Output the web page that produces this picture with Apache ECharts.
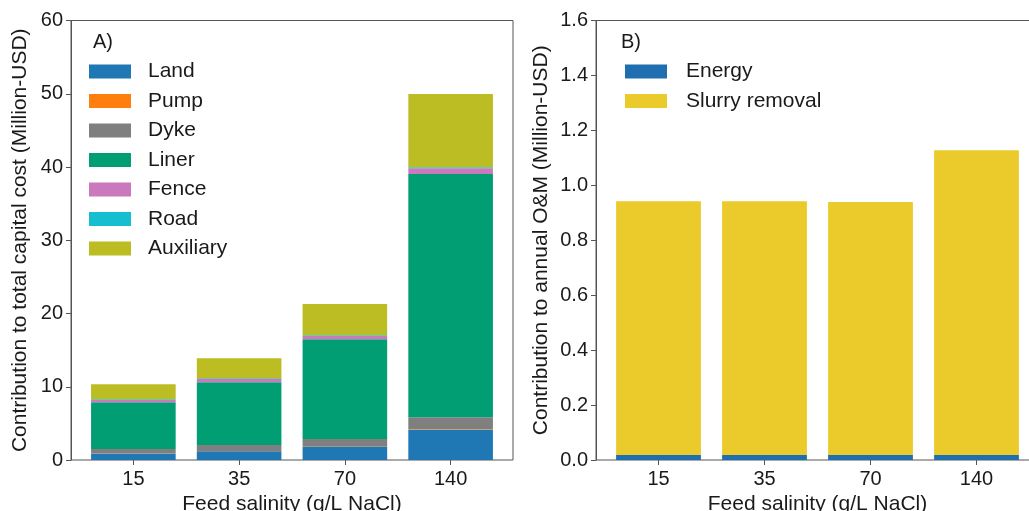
<!DOCTYPE html>
<html>
<head>
<meta charset="utf-8">
<script src="https://cdn.jsdelivr.net/npm/echarts@6/dist/echarts.min.js"></script>
<style>html,body{margin:0;padding:0;background:#fff;}#c{width:1029px;height:511px;}</style>
</head>
<body>
<div id="c"></div>
<script>
const categories = ['15', '35', '70', '140'];
// Panel A: capital cost contributions (Million-USD)
const land      = [0.90, 1.19, 1.77, 4.14];
const pump      = [0.02, 0.02, 0.03, 0.05];
const dyke      = [0.58, 0.84, 1.07, 1.64];
const liner     = [6.38, 8.55, 13.61, 33.21];
const fence     = [0.30, 0.45, 0.44, 0.78];
const road      = [0.10, 0.10, 0.10, 0.13];
const auxiliary = [2.07, 2.73, 4.28, 10.00];
// Panel B: annual O&M contributions (Million-USD)
const energy = [0.018, 0.018, 0.018, 0.018];
const slurry = [0.924, 0.924, 0.921, 1.110];
const yTicksA = [0, 10, 20, 30, 40, 50, 60];
const yTicksB = [0.0, 0.2, 0.4, 0.6, 0.8, 1.0, 1.2, 1.4, 1.6];

const FONT = '"Liberation Sans", Arial, sans-serif';
const TXT = '#1a1a1a';
const AX = '#555';
const FS = 20;

const seriesA = [
  ['Land', land, '#1f77b4'],
  ['Pump', pump, '#ff7f0e'],
  ['Dyke', dyke, '#7f7f7f'],
  ['Liner', liner, '#029e73'],
  ['Fence', fence, '#cc78bc'],
  ['Road', road, '#17becf'],
  ['Auxiliary', auxiliary, '#bcbd22']
];
const seriesB = [
  ['Energy', energy, '#1f6fb0'],
  ['Slurry removal', slurry, '#eacb2b']
];

const TOP = 20.5, H = 439.5;
const G = {outerBoundsMode: 'none', containLabel: false};
// frame grids (0,1) and bar grids (2,3)
const grids = [
  Object.assign({left: 71, top: TOP, width: 442, height: H, show: true, borderColor: AX, borderWidth: 1}, G),
  Object.assign({left: 596, top: TOP, width: 443, height: H, show: true, borderColor: AX, borderWidth: 1}, G),
  Object.assign({left: 80.5, top: TOP, width: 423, height: H}, G),
  Object.assign({left: 605.5, top: TOP, width: 424, height: H}, G)
];

function hiddenX(idx) { return {type: 'value', gridIndex: idx, show: false, min: 0, max: 1}; }
function catX(idx) {
  return {
    type: 'category', gridIndex: idx, data: categories,
    axisLine: {show: false},
    axisTick: {show: true, alignWithLabel: true, length: 5, lineStyle: {color: AX}},
    axisLabel: {margin: 9, fontSize: FS, color: TXT, fontFamily: FONT},
    name: 'Feed salinity (g/L NaCl)', nameLocation: 'middle', nameGap: 31,
    nameTextStyle: {fontSize: 21, color: TXT, fontFamily: FONT}
  };
}
function yAxisFor(idx, ticks, name, gap, digits) {
  return {
    type: 'value', gridIndex: idx, min: ticks[0], max: ticks[ticks.length - 1],
    interval: ticks[1] - ticks[0],
    axisLine: {show: true, lineStyle: {color: AX}},
    splitLine: {show: false},
    axisTick: {show: true, length: 5, lineStyle: {color: AX}},
    axisLabel: {margin: 8, fontSize: FS, color: TXT, fontFamily: FONT,
      formatter: v => digits ? v.toFixed(digits) : String(v)},
    name: name, nameLocation: 'middle', nameGap: gap,
    nameTextStyle: {fontSize: 21, color: TXT, fontFamily: FONT}
  };
}
function hiddenY(idx, ticks) {
  return {type: 'value', gridIndex: idx, show: false, min: ticks[0], max: ticks[ticks.length - 1],
    interval: ticks[1] - ticks[0], splitLine: {show: false}};
}
function mkSeries(list, xi, yi, stack) {
  return list.map(([n, vals, col]) => ({
    name: n, type: 'bar', stack: stack, xAxisIndex: xi, yAxisIndex: yi,
    barWidth: '80%',
    itemStyle: {color: col},
    emphasis: {disabled: true},
    data: vals
  }));
}
function legendFor(names, left, pad) {
  return {data: names, orient: 'vertical', left: left, top: 61, padding: 0,
    itemWidth: 42, itemHeight: 14, itemGap: 8.5, icon: 'rect', selectedMode: false,
    textStyle: {fontSize: 21, color: TXT, fontFamily: FONT, lineHeight: 20, padding: [0, 0, 0, pad]}};
}

const chart = echarts.init(document.getElementById('c'), null, {renderer: 'canvas'});
chart.setOption({
  animation: false,
  backgroundColor: '#fff',
  grid: grids,
  xAxis: [hiddenX(0), hiddenX(1), catX(2), catX(3)],
  yAxis: [
    yAxisFor(0, yTicksA, 'Contribution to total capital cost (Million-USD)', 40.5, 0),
    yAxisFor(1, yTicksB, 'Contribution to annual O&M (Million-USD)', 44.5, 1),
    hiddenY(2, yTicksA),
    hiddenY(3, yTicksB)
  ],
  legend: [
    legendFor(seriesA.map(s => s[0]), 89, 12),
    legendFor(seriesB.map(s => s[0]), 625, 14)
  ],
  graphic: [
    {type: 'text', left: 93, top: 32, style: {text: 'A)', fontSize: FS, fill: TXT, fontFamily: FONT}},
    {type: 'text', left: 621, top: 32, style: {text: 'B)', fontSize: FS, fill: TXT, fontFamily: FONT}}
  ],
  series: [...mkSeries(seriesA, 2, 2, 'A'), ...mkSeries(seriesB, 3, 3, 'B')]
});
</script>
</body>
</html>
